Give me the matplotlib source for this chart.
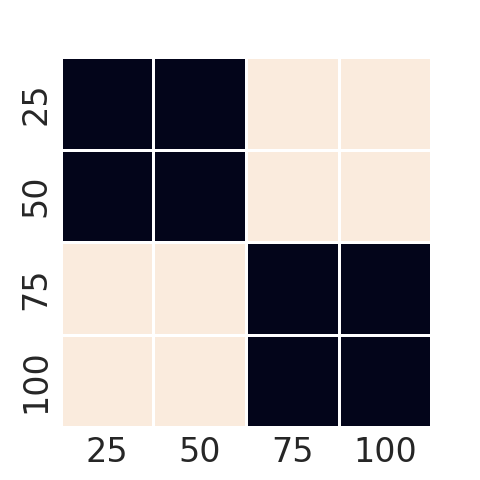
import numpy as np
import pandas as pd
import matplotlib
matplotlib.use("Agg")
import matplotlib.pyplot as plt
import seaborn as sns

# --- DATA ---
labels = [25, 50, 75, 100]
row_25 = [0, 0, 1, 1]
row_50 = [0, 0, 1, 1]
row_75 = [1, 1, 0, 0]
row_100 = [1, 1, 0, 0]

df = pd.DataFrame([row_25, row_50, row_75, row_100], index=labels, columns=labels)

sns.set_theme(style="white")
plt.rcParams['font.family'] = ['DejaVu Sans']

fig = plt.figure(figsize=(4.8, 4.8), dpi=100)
ax = fig.add_axes([0.127, 0.110, 0.771, 0.771])
sns.heatmap(df, ax=ax, cmap="rocket", cbar=False, square=True,
            linewidths=1, linecolor="white")

ax.tick_params(axis="both", labelsize=24, length=0, pad=6)
ax.set_yticklabels(labels, rotation=90, va="center")
ax.set_xticklabels(labels, rotation=0)
ax.set_xlabel("")
ax.set_ylabel("")

fig.savefig("out.png", dpi=100)
